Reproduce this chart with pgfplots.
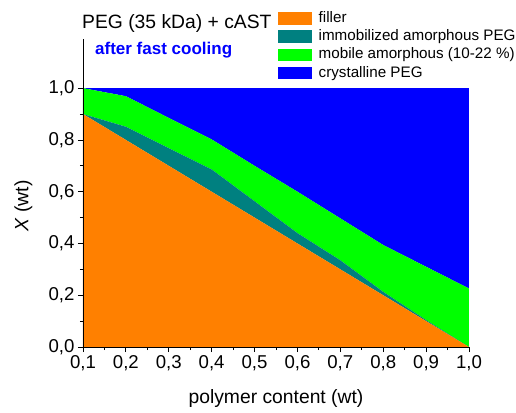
\documentclass[border=0pt]{standalone}
\usepackage{fontspec}
\setmainfont{Liberation Sans}
\usepackage{pgfplots}
\pgfplotsset{compat=1.18}
\definecolor{cfill}{RGB}{255,128,0}
\definecolor{cimm}{RGB}{0,128,128}
\definecolor{cmob}{RGB}{0,255,0}
\definecolor{ccry}{RGB}{0,0,255}
\begin{document}
\begin{tikzpicture}
\useasboundingbox (-83pt,-65pt) rectangle (433pt,347pt);
\begin{axis}[
  scale only axis, width=386pt, height=308pt,
  xmin=0.1, xmax=1.0, ymin=0, ymax=1.19,
  axis lines*=left, axis on top,
  axis line style={line width=0.8pt, black},
  tick style={line width=0.8pt, black},
  tick align=outside,
  major tick length=5pt, minor tick length=3pt,
  xtick={0.1,0.2,0.3,0.4,0.5,0.6,0.7,0.8,0.9,1.0},
  ytick={0,0.2,0.4,0.6,0.8,1.0},
  minor x tick num=1, minor y tick num=1,
  /pgf/number format/.cd, fixed, fixed zerofill, precision=1, use comma, assume math mode=true,
  /pgfplots/.cd,
  ticklabel style={font=\fontsize{18.6}{20}\selectfont},
  label style={font=\fontsize{19.3}{22}\selectfont},
  xlabel={polymer content (wt)},
  ylabel={\textit{X} (wt)},
  xlabel style={at={(axis description cs:0.5,-0.182)}, anchor=base, inner sep=0pt},
  ylabel style={at={(axis description cs:-0.1417,0.458)}, anchor=base, inner sep=0pt},
  stack plots=y,
  legend image code/.code={\fill[#1] (0pt,-6.25pt) rectangle (34pt,6.25pt);},
  legend cell align=left,
  legend style={at={(0.5052,1.0974)}, anchor=north west, draw=none, fill=none,
    font=\fontsize{15.2}{18}\selectfont, inner sep=0pt, row sep=0pt,
    nodes={inner sep=1.5pt, text height=11.5pt, text depth=3.8pt},
    /tikz/every odd column/.append style={column sep=5pt}},
]
\addplot[fill=cfill, draw=none] table {
x y
0.1 0.9
0.2 0.8
0.3 0.7
0.4 0.6
0.5 0.5
0.6 0.4
0.7 0.3
0.8 0.2
0.9 0.1
1.0 0.0
} \closedcycle;
\addlegendentry{filler}
\addplot[fill=cimm, draw=none] table {
x y
0.1 0.0
0.2 0.051
0.3 0.068
0.4 0.086
0.5 0.063
0.6 0.040
0.7 0.035
0.8 0.013
0.9 0.004
1.0 0.0
} \closedcycle;
\addlegendentry{immobilized amorphous PEG}
\addplot[fill=cmob, draw=none] table {
x y
0.1 0.1
0.2 0.118
0.3 0.117
0.4 0.116
0.5 0.137
0.6 0.160
0.7 0.162
0.8 0.181
0.9 0.206
1.0 0.226
} \closedcycle;
\addlegendentry{mobile amorphous (10-22 \%)}
\addplot[fill=ccry, draw=none] table {
x y
0.1 0.0
0.2 0.031
0.3 0.115
0.4 0.198
0.5 0.300
0.6 0.400
0.7 0.503
0.8 0.606
0.9 0.690
1.0 0.774
} \closedcycle;
\addlegendentry{crystalline PEG}
\end{axis}
\node[anchor=base west, inner sep=0pt, font=\fontsize{19.3}{22}\selectfont] at (-1pt,318.7pt) {PEG (35 kDa) + cAST};
\node[anchor=base west, inner sep=0pt, text=ccry, font=\bfseries\fontsize{17}{20}\selectfont] at (12pt,292pt) {after fast cooling};
\end{tikzpicture}
\end{document}
